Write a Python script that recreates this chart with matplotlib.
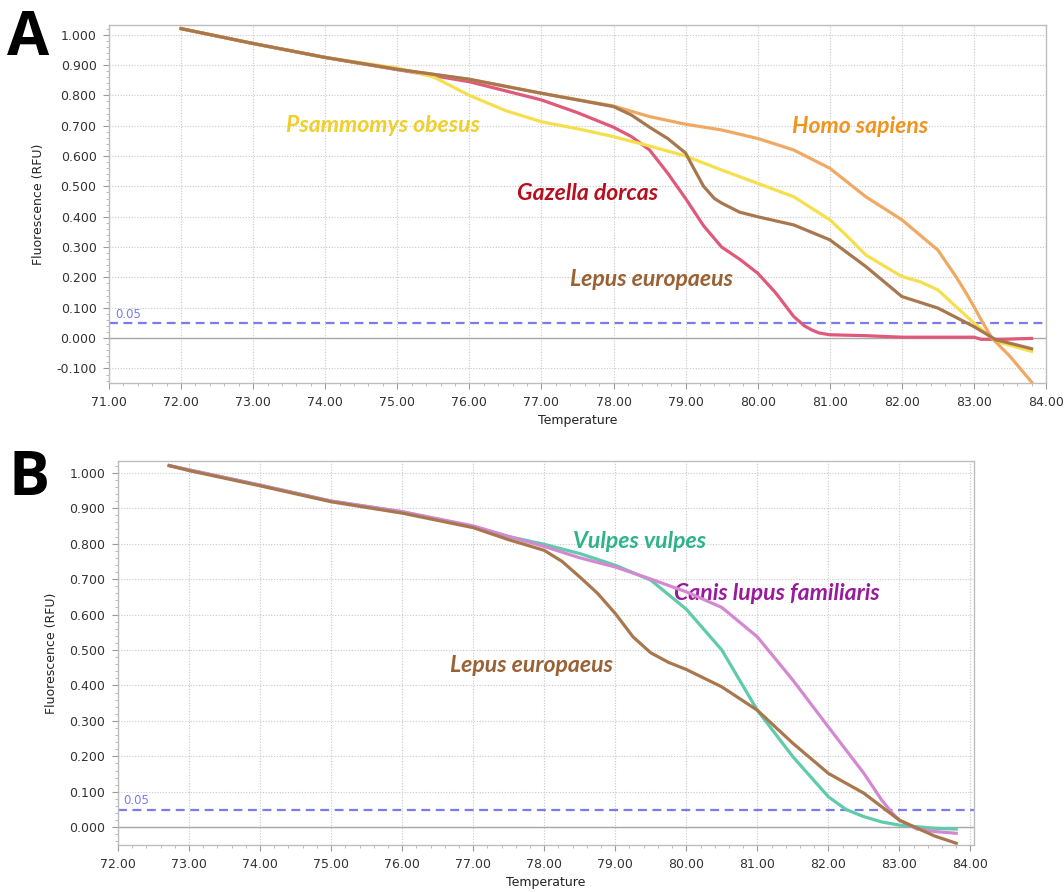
import matplotlib
matplotlib.use("Agg")
import matplotlib.pyplot as plt
from matplotlib.ticker import MultipleLocator, FormatStrFormatter

# ---------------- Panel A data ----------------
a_homo_t = [72.0, 73.0, 74.0, 75.0, 76.0, 77.0, 78.0, 78.5, 79.0, 79.5, 80.0, 80.5, 81.0,
            81.5, 82.0, 82.5, 82.75, 82.9, 83.0, 83.1, 83.25, 83.5, 83.8]
a_homo_v = [1.02, 0.971, 0.925, 0.886, 0.853, 0.807, 0.765, 0.73, 0.705, 0.686, 0.658, 0.62, 0.56,
            0.466, 0.39, 0.29, 0.203, 0.145, 0.104, 0.06, 0.0, -0.06, -0.145]

a_lepus_t = [72.0, 73.0, 74.0, 75.0, 76.0, 77.0, 78.0, 78.25, 78.5, 78.75, 79.0, 79.1, 79.25, 79.4,
             79.5, 79.75, 80.0, 80.5, 81.0, 81.5, 82.0, 82.5, 83.0, 83.3, 83.8]
a_lepus_v = [1.02, 0.971, 0.925, 0.886, 0.853, 0.807, 0.763, 0.735, 0.695, 0.658, 0.61, 0.565, 0.50, 0.46,
             0.445, 0.415, 0.40, 0.373, 0.324, 0.236, 0.137, 0.099, 0.038, -0.005, -0.035]

a_psam_t = [72.0, 73.0, 74.0, 75.0, 75.5, 76.0, 76.5, 77.0, 77.5, 78.0, 78.5, 79.0, 79.5, 80.0,
            80.5, 81.0, 81.25, 81.5, 82.0, 82.25, 82.5, 82.75, 83.0, 83.3, 83.8]
a_psam_v = [1.02, 0.971, 0.925, 0.89, 0.861, 0.80, 0.75, 0.713, 0.69, 0.664, 0.633, 0.60, 0.554, 0.51,
            0.466, 0.39, 0.334, 0.274, 0.203, 0.186, 0.159, 0.104, 0.05, -0.01, -0.044]

a_gaz_t = [72.0, 73.0, 74.0, 75.0, 76.0, 77.0, 77.5, 78.0, 78.25, 78.5, 78.75, 79.0, 79.25, 79.5,
           79.75, 80.0, 80.25, 80.5, 80.65, 80.75, 80.85, 81.0, 81.5, 82.0, 83.0, 83.1, 83.4, 83.8]
a_gaz_v = [1.02, 0.971, 0.925, 0.885, 0.845, 0.785, 0.743, 0.695, 0.664, 0.62, 0.544, 0.46, 0.37, 0.30,
           0.26, 0.214, 0.149, 0.071, 0.04, 0.027, 0.017, 0.011, 0.008, 0.003, 0.003, -0.004, -0.004, -0.001]

# ---------------- Panel B data ----------------
b_vulp_t = [72.72, 73.0, 74.0, 75.0, 76.0, 77.0, 77.5, 78.0, 78.5, 79.0, 79.5, 80.0, 80.5, 81.0,
            81.5, 82.0, 82.25, 82.5, 82.75, 83.0, 83.5, 83.8]
b_vulp_v = [1.02, 1.008, 0.965, 0.92, 0.89, 0.848, 0.82, 0.798, 0.772, 0.739, 0.697, 0.615, 0.50, 0.33,
            0.199, 0.086, 0.05, 0.03, 0.015, 0.006, -0.003, -0.005]

b_canis_t = [72.72, 73.0, 74.0, 75.0, 76.0, 77.0, 77.5, 78.0, 78.5, 79.0, 79.5, 80.0, 80.5, 81.0,
             81.5, 82.0, 82.5, 82.75, 82.9, 83.0, 83.25, 83.5, 83.8]
b_canis_v = [1.02, 1.008, 0.965, 0.92, 0.89, 0.85, 0.82, 0.792, 0.76, 0.734, 0.70, 0.664, 0.62, 0.537,
             0.415, 0.283, 0.152, 0.077, 0.04, 0.02, -0.005, -0.012, -0.017]

b_lepus_t = [72.72, 73.0, 74.0, 75.0, 76.0, 77.0, 77.5, 78.0, 78.25, 78.5, 78.75, 79.0, 79.25, 79.5,
             79.75, 80.0, 80.5, 81.0, 81.5, 82.0, 82.5, 83.0, 83.5, 83.8]
b_lepus_v = [1.02, 1.006, 0.963, 0.918, 0.886, 0.845, 0.811, 0.781, 0.75, 0.706, 0.66, 0.603, 0.537, 0.492,
             0.465, 0.445, 0.396, 0.33, 0.237, 0.152, 0.096, 0.02, -0.025, -0.045]

threshold = 0.05

# ---------------- styling ----------------
C_YEL_L, C_YEL_T = "#F6DF4C", "#F0CF2A"
C_ORA_L, C_ORA_T = "#F0A962", "#F0941E"
C_GAZ_L, C_GAZ_T = "#E0587A", "#B80F1E"
C_LEP_L, C_LEP_T = "#A8774E", "#9A6134"
C_VUL_L, C_VUL_T = "#5ECBAB", "#2DB38A"
C_CAN_L, C_CAN_T = "#D488D2", "#9A1A9E"
C_THR = "#7B7BF0"

fig = plt.figure(figsize=(10.64, 8.92), dpi=100)
axA = fig.add_axes([109 / 1064, 1 - 383 / 892, 937 / 1064, 358 / 892])
axB = fig.add_axes([118 / 1064, 1 - 845 / 892, 856 / 1064, 384 / 892])

LW = 2.3
lab_font = dict(family=["Lato", "DejaVu Sans"], style="italic", weight="bold", fontsize=16.6)


def style_axes(ax, xlim, ylim):
    ax.set_xlim(*xlim)
    ax.set_ylim(*ylim)
    ax.xaxis.set_major_locator(MultipleLocator(1.0))
    ax.xaxis.set_minor_locator(MultipleLocator(0.2))
    ax.yaxis.set_major_locator(MultipleLocator(0.1))
    ax.yaxis.set_minor_locator(MultipleLocator(0.02))
    ax.xaxis.set_major_formatter(FormatStrFormatter("%.2f"))
    ax.yaxis.set_major_formatter(FormatStrFormatter("%.3f"))
    ax.grid(True, which="major", linestyle=(0, (1, 1.5)), color="#c8c8c8", linewidth=0.8)
    ax.set_axisbelow(True)
    for s in ax.spines.values():
        s.set_color("#bdbdbd")
        s.set_linewidth(1.0)
    ax.tick_params(which="major", direction="out", length=4, color="#9a9a9a",
                   labelsize=9, labelcolor="#333333", pad=5)
    ax.tick_params(which="minor", direction="out", length=2, color="#b0b0b0")
    ax.axhline(0.0, color="#a8a8a8", linewidth=1.0, zorder=1.5)
    ax.axhline(threshold, color=C_THR, linestyle=(0, (4, 2.5)), linewidth=1.6, zorder=1.6)
    ax.text(xlim[0] + 0.08, threshold + 0.006, "0.05", color=C_THR, fontsize=8.5,
            ha="left", va="bottom")
    ax.set_ylabel("Fluorescence (RFU)", fontsize=9, color="#222222", labelpad=8)
    ax.set_xlabel("Temperature", fontsize=9, color="#222222", labelpad=4)


style_axes(axA, (71.0, 84.0), (-0.148, 1.032))
axA.plot(a_gaz_t, a_gaz_v, color=C_GAZ_L, lw=LW, zorder=3)
axA.plot(a_homo_t, a_homo_v, color=C_ORA_L, lw=LW, zorder=3.2)
axA.plot(a_psam_t, a_psam_v, color=C_YEL_L, lw=LW, zorder=3.1)
axA.plot(a_lepus_t, a_lepus_v, color=C_LEP_L, lw=LW, zorder=3.3)

axA.text(74.80, 0.702, "Psammomys obesus", color=C_YEL_T, ha="center", va="center", **lab_font)
axA.text(81.42, 0.697, "Homo sapiens", color=C_ORA_T, ha="center", va="center", **lab_font)
axA.text(77.64, 0.478, "Gazella dorcas", color=C_GAZ_T, ha="center", va="center", **lab_font)
axA.text(78.52, 0.192, "Lepus europaeus", color=C_LEP_T, ha="center", va="center", **lab_font)

style_axes(axB, (72.0, 84.05), (-0.05, 1.033))
axB.plot(b_vulp_t, b_vulp_v, color=C_VUL_L, lw=LW, zorder=3)
axB.plot(b_canis_t, b_canis_v, color=C_CAN_L, lw=LW, zorder=3.1)
axB.plot(b_lepus_t, b_lepus_v, color=C_LEP_L, lw=LW, zorder=3.2)

axB.text(79.34, 0.807, "Vulpes vulpes", color=C_VUL_T, ha="center", va="center", **lab_font)
axB.text(81.27, 0.66, "Canis lupus familiaris", color=C_CAN_T, ha="center", va="center", **lab_font)
axB.text(77.82, 0.457, "Lepus europaeus", color=C_LEP_T, ha="center", va="center", **lab_font)

fig.text(7 / 1064, 1 - 55 / 892, "A", fontsize=44, fontweight="bold", ha="left", va="baseline",
         family=["Open Sans", "DejaVu Sans"])
fig.text(9 / 1064, 1 - 495 / 892, "B", fontsize=44, fontweight="bold", ha="left", va="baseline",
         family=["Open Sans", "DejaVu Sans"])

fig.savefig("out.png", dpi=100)
